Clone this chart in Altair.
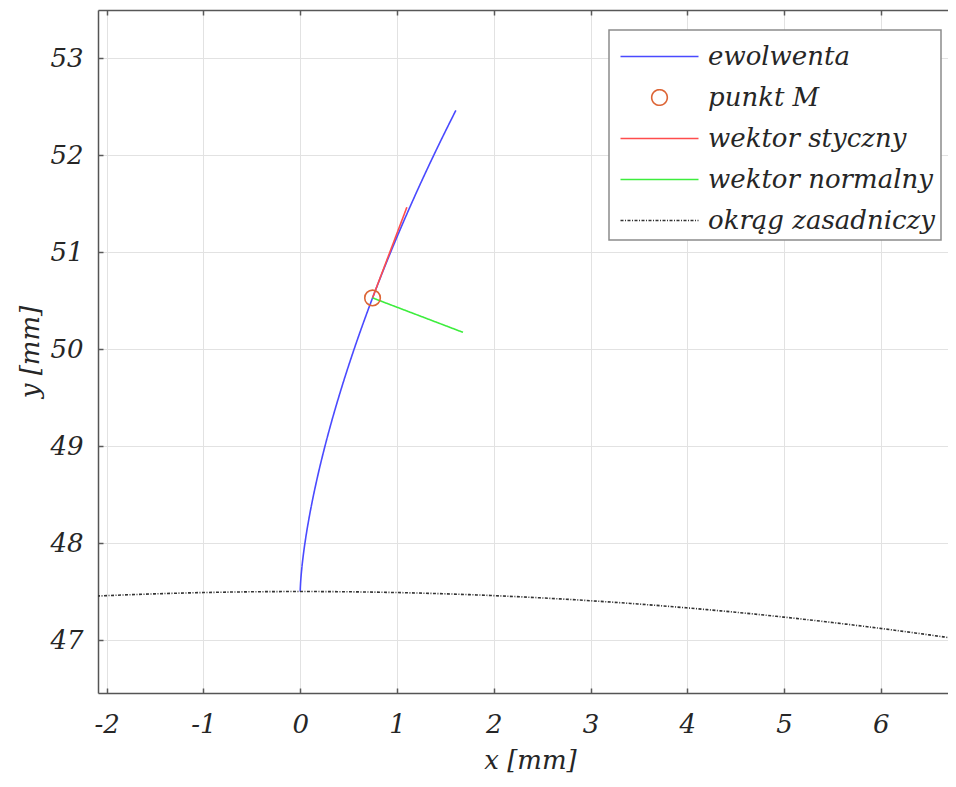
import altair as alt
import pandas as pd

FONT = "DejaVu Serif"

series_names = ["ewolwenta", "punkt M", "wektor styczny", "wektor normalny", "okrąg zasadniczy"]
series_colors = ["#4a4aff", "#dd6536", "#ff4d4d", "#3ded3d", "#333333"]
series_dash = [[1, 0], [1, 0], [1, 0], [1, 0], [3, 1.5, 1, 1.5]]
series_shape = [
    "M-2,0H2",
    "M-0.4,0A0.4,0.4,0,1,0,0.4,0A0.4,0.4,0,1,0,-0.4,0Z",
    "M-2,0H2",
    "M-2,0H2",
    "M-2,0H2",
]

# involute (ewolwenta)
inv_x = [0.0, 0.0002, 0.0020, 0.0067, 0.0158, 0.0309, 0.0533, 0.0846, 0.1262, 0.1794,
         0.2459, 0.3268, 0.4237, 0.5378, 0.6706, 0.8233, 0.9972, 1.1936, 1.4138, 1.608]
inv_y = [47.5, 47.5148, 47.5593, 47.6334, 47.7369, 47.8696, 48.0314, 48.2218, 48.4405, 48.6872,
         48.9613, 49.2624, 49.5896, 49.9427, 50.3209, 50.7234, 51.1493, 51.5981, 52.0686, 52.4602]
# point M
m_x = [0.747]
m_y = [50.527]
# tangent vector
tan_x = [0.747, 1.102]
tan_y = [50.527, 51.462]
# normal vector
nor_x = [0.747, 1.682]
nor_y = [50.527, 50.172]
# base circle (okrąg zasadniczy)
circ_x = [-2.1, -1.5, -1.0, -0.5, 0.0, 0.5, 1.0, 1.5, 2.0, 2.5, 3.0, 3.5, 4.0, 4.5, 5.0, 5.5, 6.0, 6.5, 6.8]
circ_y = [47.4536, 47.4763, 47.4895, 47.4974, 47.5, 47.4974, 47.4895, 47.4763, 47.4579, 47.4342,
          47.4052, 47.3709, 47.3313, 47.2864, 47.2361, 47.1805, 47.1195, 47.0532, 47.0107]

x_ticks = [-2, -1, 0, 1, 2, 3, 4, 5, 6]
y_ticks = [47, 48, 49, 50, 51, 52, 53]
x_domain = [-2.09, 6.694]
y_domain = [46.454, 53.495]

rows = []
for name, xs_, ys_ in [
    ("ewolwenta", inv_x, inv_y),
    ("punkt M", m_x, m_y),
    ("wektor styczny", tan_x, tan_y),
    ("wektor normalny", nor_x, nor_y),
    ("okrąg zasadniczy", circ_x, circ_y),
]:
    for i, (a, b) in enumerate(zip(xs_, ys_)):
        rows.append({"series": name, "x": a, "y": b, "i": i})
df = pd.DataFrame(rows)

xs = alt.Scale(domain=x_domain, nice=False, zero=False)
ys = alt.Scale(domain=y_domain, nice=False, zero=False)

leg = alt.Legend(
    orient="none", legendX=511, legendY=20, title=None, direction="vertical",
    labelFont=FONT, labelFontStyle="italic", labelFontSize=26, labelColor="#262626",
    labelLimit=500, strokeColor="#8c8c8c", fillColor="white", padding=6, rowPadding=7,
    symbolSize=1521, symbolStrokeWidth=1.6, symbolOffset=24, labelOffset=28,
)

color_enc = alt.Color("series:N", scale=alt.Scale(domain=series_names, range=series_colors), legend=leg)
dash_enc = alt.StrokeDash("series:N", scale=alt.Scale(domain=series_names, range=series_dash), legend=leg)
shape_enc = alt.Shape("series:N", scale=alt.Scale(domain=series_names, range=series_shape), legend=leg)

lab_expr = "'' + datum.value"
axis_common = dict(
    labelFont=FONT, labelFontStyle="italic", labelFontSize=26, labelColor="#262626",
    titleFont=FONT, titleFontStyle="italic", titleFontSize=26, titleFontWeight="normal",
    titleColor="#262626", gridColor="#e2e2e2", gridWidth=1, domainColor="#555555",
    domainWidth=1.5, ticks=False, tickSize=0, labelExpr=lab_expr,
)

x_main = alt.X("x:Q", scale=xs, axis=alt.Axis(
    values=x_ticks, title="x [mm]", orient="bottom", grid=True, labelPadding=18,
    titleBaseline="alphabetic", titleY=75, titleX=432, **axis_common))
y_main = alt.Y("y:Q", scale=ys, axis=alt.Axis(
    values=y_ticks, title="y [mm]", orient="left", grid=True, labelPadding=15,
    titleBaseline="alphabetic", titleAngle=270, titleX=-60, **axis_common))

tick_axis = dict(domain=False, labels=False, grid=False, title=None, ticks=True,
                 tickSize=5, tickColor="#595959", tickWidth=1.5, offset=-5)

lines = alt.Chart(df).transform_filter(alt.datum.series != "punkt M").mark_line(
    clip=True, strokeWidth=1.6, interpolate="monotone"
).encode(x=x_main, y=y_main, color=color_enc, strokeDash=dash_enc, order="i:Q")

point = alt.Chart(df).transform_filter(alt.datum.series == "punkt M").mark_point(
    filled=False, size=1521, strokeWidth=1.6, opacity=1
).encode(
    x=alt.X("x:Q", scale=xs, axis=alt.Axis(values=x_ticks, orient="bottom", **tick_axis)),
    y=alt.Y("y:Q", scale=ys, axis=alt.Axis(values=y_ticks, orient="left", **tick_axis)),
    color=color_enc, shape=shape_enc,
)

top_frame = alt.Chart(df).transform_filter(alt.datum.series == "punkt M").mark_point(opacity=0).encode(
    x=alt.X("x:Q", scale=xs, axis=alt.Axis(values=x_ticks, orient="top", domain=True, domainColor="#575757",
                                           domainWidth=1.5, ticks=False, labels=False, grid=False, title=None)),
    y=alt.Y("y:Q", scale=ys, axis=None),
)
top_ticks = alt.Chart(df).transform_filter(alt.datum.series == "punkt M").mark_point(opacity=0).encode(
    x=alt.X("x:Q", scale=xs, axis=alt.Axis(values=x_ticks, orient="top", **tick_axis)),
    y=alt.Y("y:Q", scale=ys, axis=None),
)

chart = alt.layer(lines, point, top_frame, top_ticks).resolve_axis(
    x="independent", y="independent"
).properties(
    width=850, height=683,
    autosize=alt.AutoSizeParams(type="none"),
    padding={"left": 90, "top": 2, "right": 0, "bottom": 80},
    background="white",
).configure_view(strokeWidth=0, stroke="transparent").configure_legend(strokeWidth=1.5)

chart.save("out.html", embed_options={"renderer": "svg", "actions": False})
